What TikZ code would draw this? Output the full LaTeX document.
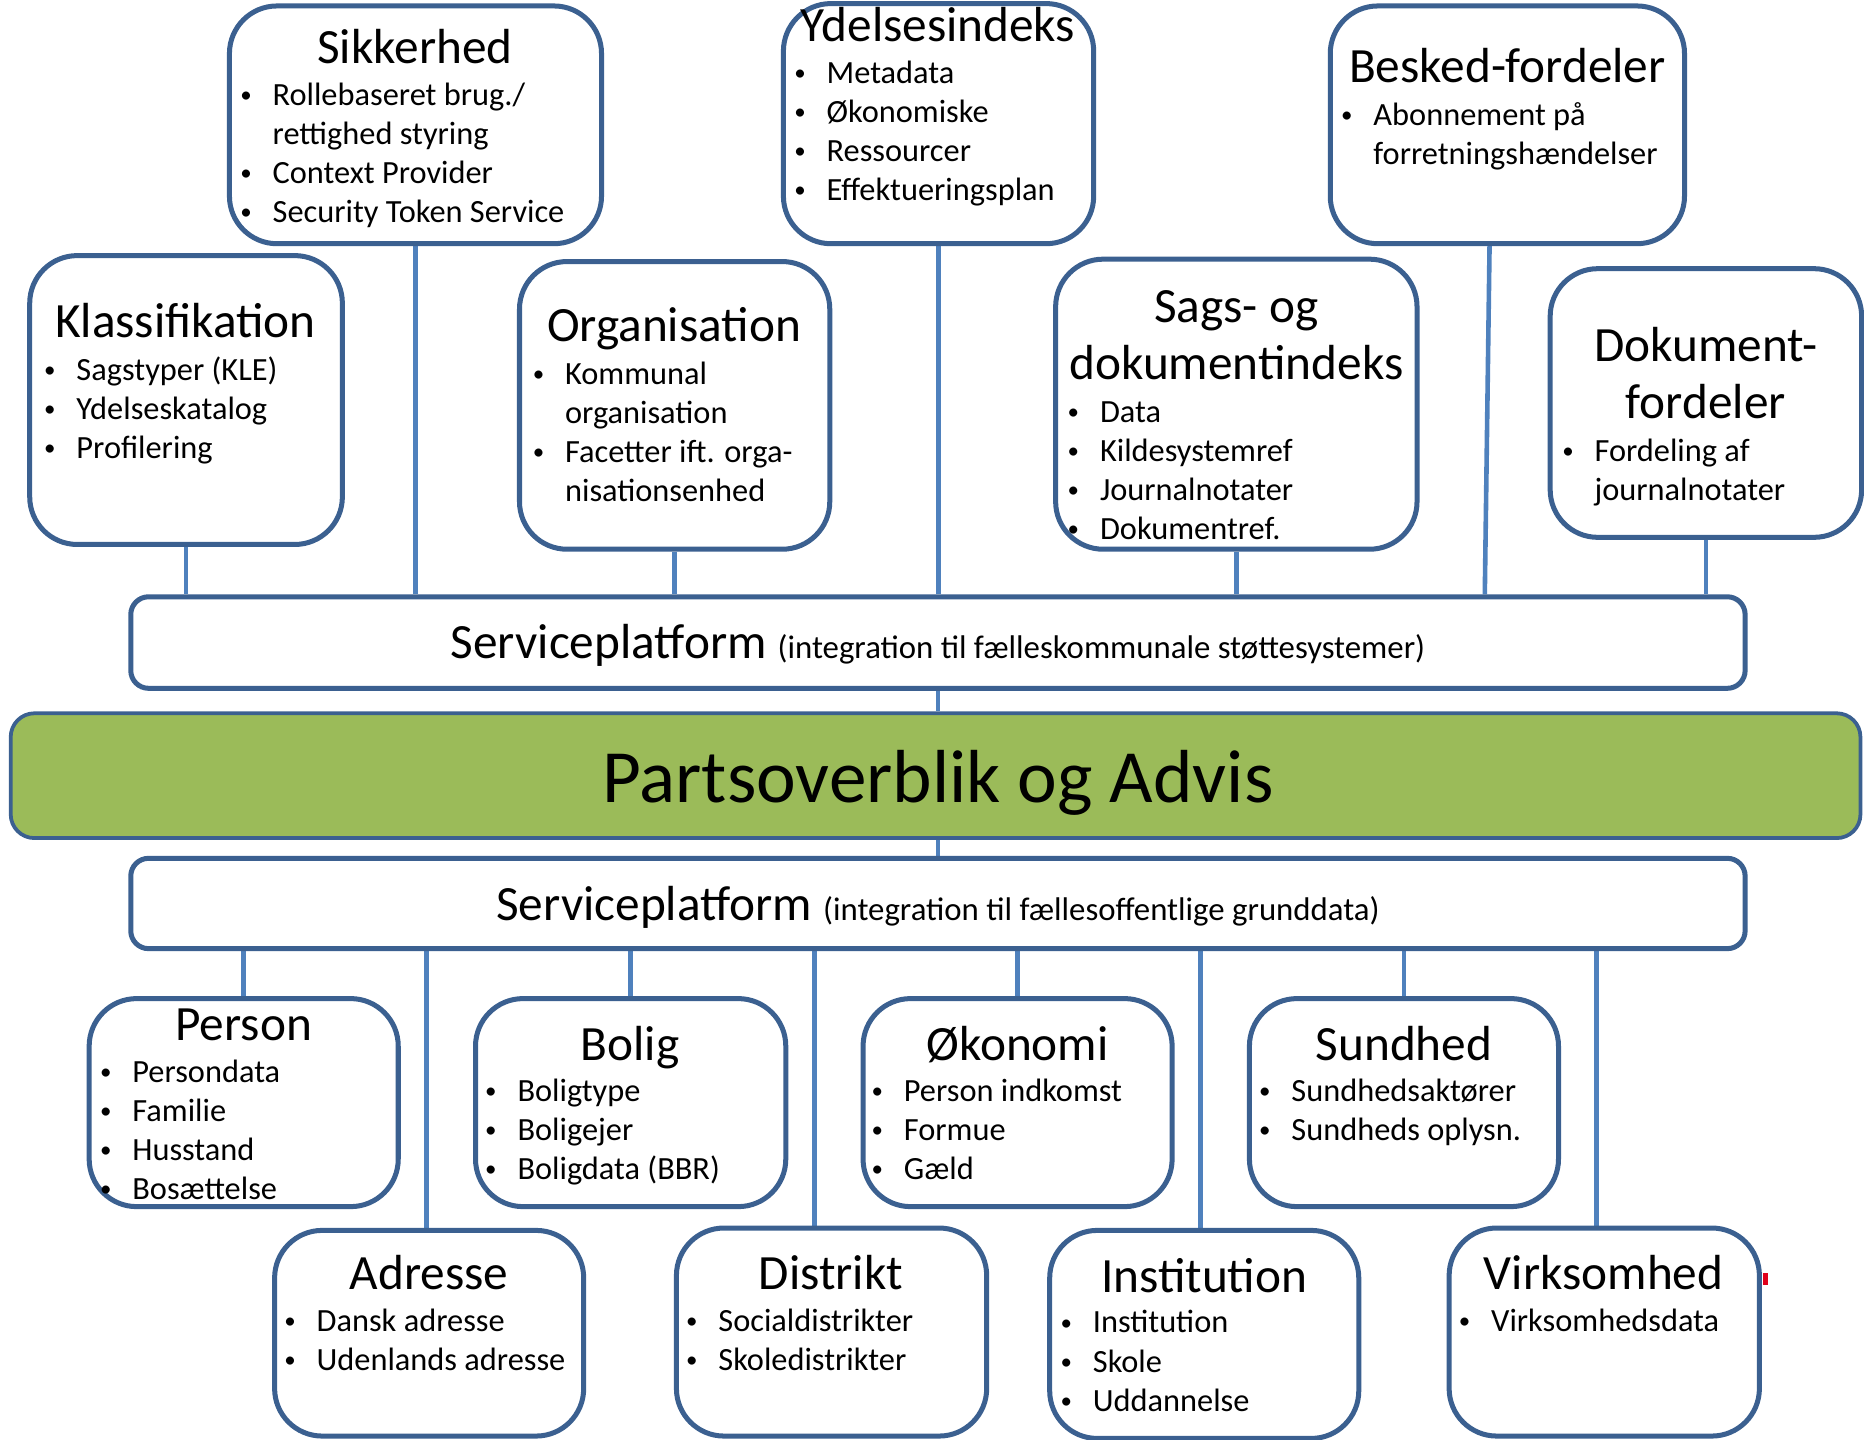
\documentclass[tikz,border=0pt]{standalone}
\usepackage{fontspec}
\setmainfont{Carlito}
\usetikzlibrary{fit,backgrounds}
\definecolor{boxblue}{RGB}{59,96,144}
\definecolor{lineblue}{RGB}{79,129,189}
\definecolor{partgreen}{RGB}{155,187,89}
\definecolor{markred}{RGB}{224,0,27}
\newcommand\pkt{\llap{\raisebox{1.4pt}{\fontsize{11}{11}\selectfont\textbullet}\hspace{10pt}}}

\begin{document}
\begin{tikzpicture}[x=0.02cm, y=-0.02cm,
  modul/.style={draw=boxblue, line width=2.4pt, rounded corners=0.8cm, fill=white, inner sep=0pt},
  platform/.style={draw=boxblue, line width=2.4pt, rounded corners=0.3cm, fill=white, inner sep=0pt},
  titel/.style={font=\fontsize{23.6}{27.2}\selectfont, align=center, anchor=base, inner sep=0pt},
  punkter/.style={font=\fontsize{15.5}{18.7}\selectfont, align=left, anchor=base west, inner sep=0pt},
  forb/.style={draw=lineblue, line width=2.2pt}]

        \useasboundingbox (0,0) rectangle (1568,1211);

        % fælleskommunale moduler (tekstnoder sidder på sidste linjes grundlinje)
        \node[modul, fit={(193,5) (506,205)}] (sikk) {};
        \node[titel] (sikk-t) at (349,53) {Sikkerhed};
        \node[punkter] (sikk-p) at (229,187) {\pkt Rollebaseret brug./\\rettighed styring\\\pkt Context Provider\\\pkt Security Token Service};

        \node[modul, fit={(659,3) (920,205)}] (ydel) {};
        \node[titel] (ydel-t) at (789,35) {Ydelsesindeks};
        \node[punkter] (ydel-p) at (695,169) {\pkt Metadata\\\pkt Økonomiske\\\pkt Ressourcer\\\pkt Effektueringsplan};

        \node[modul, fit={(1119,5) (1417,205)}] (besk) {};
        \node[titel] (besk-t) at (1268,69) {Besked-fordeler};
        \node[punkter] (besk-p) at (1155,138) {\pkt Abonnement på\\forretningshændelser};

        \node[modul, fit={(25,215) (288,458)}] (klass) {};
        \node[titel] (klass-t) at (156,284) {Klassifikation};
        \node[punkter] (klass-p) at (64,386) {\pkt Sagstyper (KLE)\\\pkt Ydelseskatalog\\\pkt Profilering};

        \node[modul, fit={(437,220) (698,462)}] (org) {};
        \node[titel] (org-t) at (567,287) {Organisation};
        \node[punkter] (org-p) at (475,422) {\pkt Kommunal\\organisation\\\pkt Facetter ift. orga-\\nisationsenhed};

        \node[modul, fit={(888,218) (1192,462)}] (sags) {};
        \node[titel] (sags-t) at (1040,319) {Sags- og\\dokumentindeks};
        \node[punkter] (sags-p) at (925,454) {\pkt Data\\\pkt Kildesystemref\\\pkt Journalnotater\\\pkt Dokumentref.};

        \node[modul, fit={(1304,226) (1566,452)}] (dok) {};
        \node[titel] (dok-t) at (1435,352) {Dokument-\\fordeler};
        \node[punkter] (dok-p) at (1341,421) {\pkt Fordeling af\\journalnotater};

        % serviceplatforme og partsoverblik
        \node[platform, fit={(110,502) (1468,579)}] (sp1) {};
        \node[anchor=base, inner sep=0pt] (sp1-t) at (789,554) {\fontsize{23.6}{27}\selectfont Serviceplatform \fontsize{15.7}{18}\selectfont(integration til fælleskommunale støttesystemer)};

        \node[draw=boxblue, line width=1.8pt, fill=partgreen, rounded corners=0.4cm, inner sep=0pt, fit={(9,600) (1565,705)}] (parts) {};
        \node[font=\fontsize{36}{43}\selectfont, anchor=base, inner sep=0pt] (parts-t) at (789,675) {Partsoverblik og Advis};

        \node[platform, fit={(110,722) (1468,798)}] (sp2) {};
        \node[anchor=base, inner sep=0pt] (sp2-t) at (789,774) {\fontsize{23.6}{27}\selectfont Serviceplatform \fontsize{15.7}{18}\selectfont(integration til fællesoffentlige grunddata)};

        % fællesoffentlige grunddata
        \node[modul, fit={(75,840) (335,1015)}] (person) {};
        \node[titel] (person-t) at (205,875) {Person};
        \node[punkter] (person-p) at (111,1009) {\pkt Persondata\\\pkt Familie\\\pkt Husstand\\\pkt Bosættelse};

        \node[modul, fit={(400,840) (661,1015)}] (bolig) {};
        \node[titel] (bolig-t) at (530,892) {Bolig};
        \node[punkter] (bolig-p) at (435,992) {\pkt Boligtype\\\pkt Boligejer\\\pkt Boligdata (BBR)};

        \node[modul, fit={(726,840) (986,1015)}] (okon) {};
        \node[titel] (okon-t) at (856,892) {Økonomi};
        \node[punkter] (okon-p) at (760,992) {\pkt Person indkomst\\\pkt Formue\\\pkt Gæld};

        \node[modul, fit={(1051,840) (1311,1015)}] (sund) {};
        \node[titel] (sund-t) at (1181,892) {Sundhed};
        \node[punkter] (sund-p) at (1086,959) {\pkt Sundhedsaktører\\\pkt Sundheds oplysn.};

        \node[modul, fit={(231,1035) (491,1208)}] (adr) {};
        \node[titel] (adr-t) at (361,1085) {Adresse};
        \node[punkter] (adr-p) at (266,1153) {\pkt Dansk adresse\\\pkt Udenlands adresse};

        \node[modul, fit={(569,1033) (830,1208)}] (distr) {};
        \node[titel] (distr-t) at (699,1085) {Distrikt};
        \node[punkter] (distr-p) at (604,1153) {\pkt Socialdistrikter\\\pkt Skoledistrikter};

        \node[modul, fit={(883,1035) (1143,1210)}] (inst) {};
        \node[titel] (inst-t) at (1013,1087) {Institution};
        \node[punkter] (inst-p) at (919,1187) {\pkt Institution\\\pkt Skole\\\pkt Uddannelse};

        \node[modul, fit={(1219,1033) (1480,1208)}] (virk) {};
        \node[titel] (virk-t) at (1349,1085) {Virksomhed};
        \node[punkter] (virk-p) at (1254,1120) {\pkt Virksomhedsdata};

        \fill[markred] (1483,1071) rectangle (1487,1081);

        % forbindelser
        \begin{scope}[on background layer]
        \draw[forb] (klass.south) -- (klass.south |- sp1.north);
        \draw[forb] (sikk.south) -- (sikk.south |- sp1.north);
        \draw[forb] (org.south) -- (org.south |- sp1.north);
        \draw[forb] (ydel.south) -- (ydel.south |- sp1.north);
        \draw[forb] (sags.south) -- (sags.south |- sp1.north);
        \draw[forb] ([xshift=-0.3cm]besk.south) -- ([xshift=-0.38cm]besk.south |- sp1.north);
        \draw[forb] (dok.south) -- (dok.south |- sp1.north);
        \draw[forb] (sp1.south) -- (sp1.south |- parts.north);
        \draw[forb] (sp2.north) -- (sp2.north |- parts.south);
        \draw[forb] (person.north) -- (person.north |- sp2.south);
        \draw[forb] ([xshift=-0.04cm]adr.north) -- ([xshift=-0.04cm]adr.north |- sp2.south);
        \draw[forb] (bolig.north) -- (bolig.north |- sp2.south);
        \draw[forb] ([xshift=-0.29cm]distr.north) -- ([xshift=-0.29cm]distr.north |- sp2.south);
        \draw[forb] (okon.north) -- (okon.north |- sp2.south);
        \draw[forb] ([xshift=-0.06cm]inst.north) -- ([xshift=-0.06cm]inst.north |- sp2.south);
        \draw[forb] (sund.north) -- (sund.north |- sp2.south);
        \draw[forb] ([xshift=-0.13cm]virk.north) -- ([xshift=-0.13cm]virk.north |- sp2.south);
        \end{scope}

      \end{tikzpicture}
\end{document}
